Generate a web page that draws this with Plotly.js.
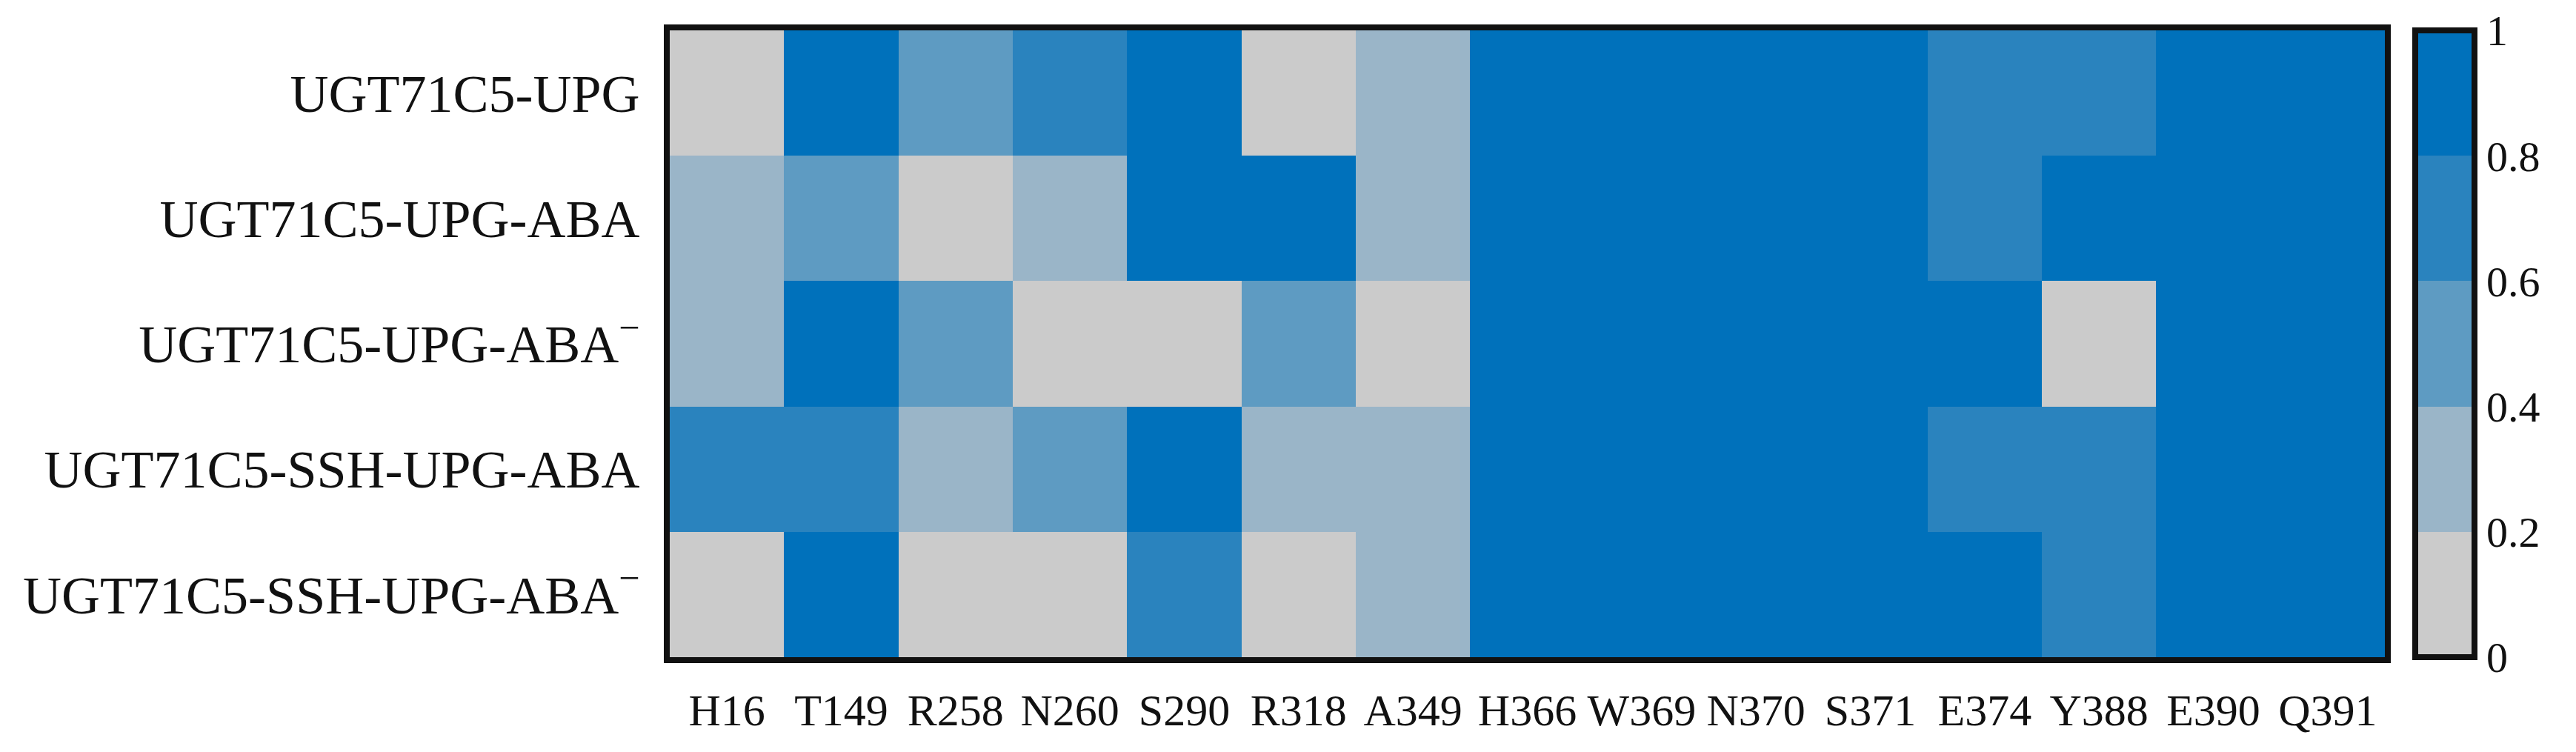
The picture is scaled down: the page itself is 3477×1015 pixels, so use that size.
<!DOCTYPE html>
<html>
<head>
<meta charset="utf-8">
<script src="https://cdn.plot.ly/plotly-3.0.1.min.js"></script>
<style>
  body { margin: 0; background: #fff; }
  #heatmap { width: 3477px; height: 1015px; }
</style>
</head>
<body>
<div id="heatmap"></div>
<script>
// residues along the x axis
var residues = ["H16", "T149", "R258", "N260", "S290", "R318", "A349", "H366",
                "W369", "N370", "S371", "E374", "Y388", "E390", "Q391"];

// complexes, top to bottom
var complexes = ["UGT71C5-UPG", "UGT71C5-UPG-ABA", "UGT71C5-UPG-ABA<sup>−</sup>",
                 "UGT71C5-SSH-UPG-ABA", "UGT71C5-SSH-UPG-ABA<sup>−</sup>"];

// occupancy per complex (binned in 0.2 steps)
var upg        = [0.1, 1.0, 0.5, 0.7, 1.0, 0.1, 0.3, 1.0, 1.0, 1.0, 1.0, 0.7, 0.7, 1.0, 1.0];
var upgAba     = [0.3, 0.5, 0.1, 0.3, 1.0, 1.0, 0.3, 1.0, 1.0, 1.0, 1.0, 0.7, 1.0, 1.0, 1.0];
var upgAbaM    = [0.3, 1.0, 0.5, 0.1, 0.1, 0.5, 0.1, 1.0, 1.0, 1.0, 1.0, 1.0, 0.1, 1.0, 1.0];
var sshUpgAba  = [0.7, 0.7, 0.3, 0.5, 1.0, 0.3, 0.3, 1.0, 1.0, 1.0, 1.0, 0.7, 0.7, 1.0, 1.0];
var sshUpgAbaM = [0.1, 1.0, 0.1, 0.1, 0.7, 0.1, 0.3, 1.0, 1.0, 1.0, 1.0, 1.0, 0.7, 1.0, 1.0];

// colorbar ticks
var cbTicks = [0, 0.2, 0.4, 0.6, 0.8, 1];
var cbTickText = ["0", "0.2", "0.4", "0.6", "0.8", "1"];

var c0 = "#cbcbcb", c1 = "#9ab5c8", c2 = "#5e9bc2", c3 = "#2a83be", c4 = "#0071bb";
var scale = [
  [0, c0], [0.2, c0], [0.2, c1], [0.4, c1], [0.4, c2],
  [0.6, c2], [0.6, c3], [0.8, c3], [0.8, c4], [1, c4]
];

var serif = "Liberation Serif, Times New Roman, serif";

var trace = {
  type: "heatmap",
  x: residues,
  y: complexes,
  z: [upg, upgAba, upgAbaM, sshUpgAba, sshUpgAbaM],
  zmin: 0,
  zmax: 1,
  colorscale: scale,
  hoverinfo: "x+y+z",
  colorbar: {
    x: 1.0177,
    xanchor: "left",
    xpad: 0,
    y: 0.5,
    yanchor: "middle",
    len: 1,
    ypad: 0,
    thickness: 80,
    outlinewidth: 8,
    outlinecolor: "#111",
    tickvals: cbTicks,
    ticktext: cbTickText,
    ticks: "inside",
    ticklen: 6,
    tickwidth: 3,
    tickcolor: "#111",
    ticklabelstandoff: 10,
    tickfont: {family: serif, size: 58, color: "#111"}
  }
};

var layout = {
  width: 3477,
  height: 1015,
  margin: {l: 904, r: 258, t: 41, b: 128},
  paper_bgcolor: "#fff",
  plot_bgcolor: "#fff",
  font: {family: serif, color: "#111"},
  xaxis: {
    type: "category",
    showline: true,
    mirror: true,
    linewidth: 8,
    linecolor: "#111",
    ticks: "",
    showgrid: false,
    zeroline: false,
    ticklabelstandoff: 12,
    tickfont: {family: serif, size: 60, color: "#111"}
  },
  yaxis: {
    type: "category",
    autorange: "reversed",
    showline: true,
    mirror: true,
    linewidth: 8,
    linecolor: "#111",
    ticks: "",
    showgrid: false,
    zeroline: false,
    ticklabelstandoff: 18,
    tickfont: {family: serif, size: 72, color: "#111"}
  }
};

Plotly.newPlot("heatmap", [trace], layout, {displayModeBar: false});
</script>
</body>
</html>
